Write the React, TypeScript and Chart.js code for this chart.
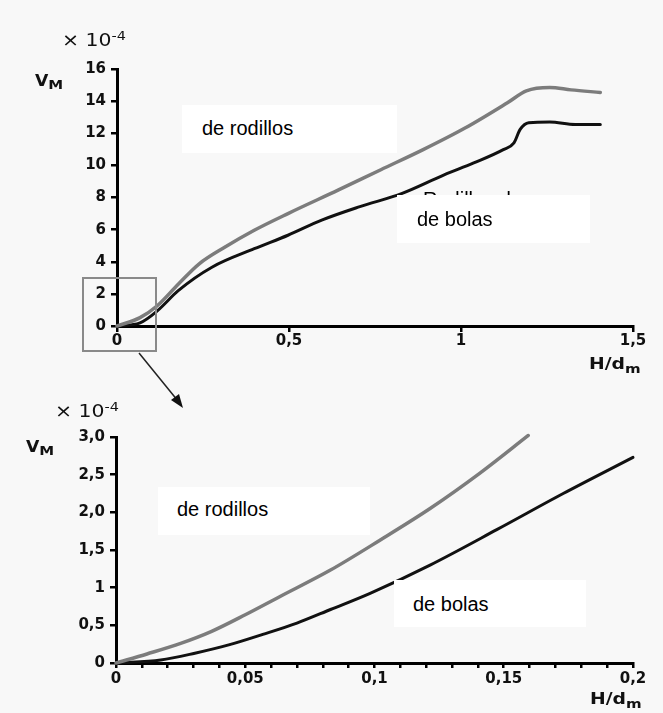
import React, { useEffect, useRef } from "react";
import { Chart, registerables } from "chart.js";
Chart.register(...registerables);

// ---- Top chart data (x10^-4) ----
const topRodillosX = [0, 0.067, 0.117, 0.178, 0.239, 0.313, 0.399, 0.497, 0.644, 0.767, 0.89, 1.013, 1.135, 1.19, 1.258, 1.32, 1.405];
const topRodillosY = [0, 0.52, 1.26, 2.6, 3.87, 4.9, 5.96, 7.0, 8.47, 9.73, 10.98, 12.34, 13.9, 14.64, 14.85, 14.7, 14.54];
const topBolasX = [0, 0.067, 0.117, 0.178, 0.276, 0.399, 0.497, 0.595, 0.706, 0.829, 0.951, 1.037, 1.123, 1.154, 1.172, 1.197, 1.258, 1.332, 1.405];
const topBolasY = [0, 0.2, 0.94, 2.2, 3.66, 4.81, 5.65, 6.59, 7.43, 8.26, 9.41, 10.15, 10.98, 11.4, 12.24, 12.66, 12.7, 12.55, 12.55];
const topXTicks = [0, 0.5, 1, 1.5];
const topXTickLabels = ["0", "0,5", "1", "1,5"];
const topYTicks = [0, 2, 4, 6, 8, 10, 12, 14, 16];
const topYTickLabels = ["0", "2", "4", "6", "8", "10", "12", "14", "16"];

// ---- Bottom chart data (x10^-4) ----
const botRodillosX = [0, 0.012, 0.025, 0.037, 0.05, 0.0633, 0.0828, 0.1021, 0.1215, 0.1408, 0.1595];
const botRodillosY = [0, 0.12, 0.26, 0.42, 0.64, 0.88, 1.23, 1.63, 2.05, 2.52, 3.02];
const botBolasX = [0, 0.0173, 0.0305, 0.0436, 0.0568, 0.07, 0.083, 0.0983, 0.1215, 0.1473, 0.173, 0.2];
const botBolasY = [0, 0.04, 0.13, 0.24, 0.38, 0.53, 0.71, 0.925, 1.3, 1.77, 2.25, 2.73];
const botXMajor = [0, 0.05, 0.1, 0.15, 0.2];
const botXMajorLabels = ["0", "0,05", "0,1", "0,15", "0,2"];
const botXMinorStep = 0.01;
const botYTicks = [0, 0.5, 1, 1.5, 2, 2.5, 3];
const botYTickLabels = ["0", "0,5", "1", "1,5", "2,0", "2,5", "3,0"];

const FONT = "'Liberation Sans', Arial, sans-serif";
const AXFONT = "'DejaVu Sans', sans-serif";
const GRAY = "#7c7c7c";
const BLACK = "#111111";

function pts(xs: number[], ys: number[]) {
  return xs.map((x, i) => ({ x, y: ys[i] }));
}

function baseScale(extra: any) {
  return {
    type: "linear",
    border: { display: true, color: "#000", width: 3 },
    grid: { drawOnChartArea: false, drawTicks: true, tickLength: 6, color: "#000", lineWidth: 2.5 },
    ...extra,
  };
}

function lineDs(data: any[], color: string, width: number) {
  return {
    data,
    borderColor: color,
    borderWidth: width,
    pointRadius: 0,
    cubicInterpolationMode: "monotone",
    borderCapStyle: "round",
    borderJoinStyle: "round",
    clip: false,
    fill: false,
  };
}

function useChart(ref: React.RefObject<HTMLCanvasElement>, make: () => any) {
  useEffect(() => {
    if (!ref.current) return;
    const chart = new Chart(ref.current, make());
    return () => chart.destroy();
  }, []);
}

const tickFont = { family: AXFONT, size: 15, weight: "bold" };

function pick(list: number[], labels: string[], eps: number) {
  return (v: number) => {
    const i = list.findIndex((t) => Math.abs(t - v) < eps);
    return i >= 0 ? labels[i] : "";
  };
}

export default function App() {
  const topRef = useRef<HTMLCanvasElement>(null);
  const botRef = useRef<HTMLCanvasElement>(null);

  useChart(topRef, () => ({
    type: "line",
    data: {
      datasets: [
        lineDs(pts(topRodillosX, topRodillosY), GRAY, 3.5),
        lineDs(pts(topBolasX, topBolasY), BLACK, 3),
      ],
    },
    options: {
      animation: false,
      responsive: false,
      layout: { padding: { left: 0, top: 69, right: 30, bottom: 16 } },
      plugins: { legend: { display: false }, tooltip: { enabled: false } },
      scales: {
        x: baseScale({
          min: 0,
          max: 1.5,
          afterBuildTicks: (s: any) => { s.ticks = topXTicks.map((v) => ({ value: v })); },
          afterFit: (s: any) => { s.height = 30; },
          ticks: { autoSkip: false, maxRotation: 0, padding: 0, color: "#111", font: tickFont, callback: pick(topXTicks, topXTickLabels, 1e-9) },
        }),
        y: baseScale({
          min: 0,
          max: 16,
          afterBuildTicks: (s: any) => { s.ticks = topYTicks.map((v) => ({ value: v })); },
          afterFit: (s: any) => { s.width = 117; },
          ticks: { autoSkip: false, padding: 5, color: "#111", font: tickFont, callback: pick(topYTicks, topYTickLabels, 1e-9) },
        }),
      },
    },
  }));

  useChart(botRef, () => ({
    type: "line",
    data: {
      datasets: [
        lineDs(pts(botRodillosX, botRodillosY), GRAY, 3.5),
        lineDs(pts(botBolasX, botBolasY), BLACK, 3),
      ],
    },
    options: {
      animation: false,
      responsive: false,
      layout: { padding: { left: 0, top: 65, right: 30, bottom: 20 } },
      plugins: { legend: { display: false }, tooltip: { enabled: false } },
      scales: {
        x: baseScale({
          min: 0,
          max: 0.2,
          grid: { drawOnChartArea: false, drawTicks: true, tickLength: 5, color: "#000", lineWidth: 2.5 },
          afterFit: (s: any) => { s.height = 30; },
          ticks: { stepSize: botXMinorStep, autoSkip: false, maxRotation: 0, padding: 2, color: "#111", font: tickFont, callback: pick(botXMajor, botXMajorLabels, 1e-6) },
        }),
        y: baseScale({
          min: 0,
          max: 3,
          afterBuildTicks: (s: any) => { s.ticks = botYTicks.map((v) => ({ value: v })); },
          afterFit: (s: any) => { s.width = 116; },
          ticks: { autoSkip: false, padding: 5, color: "#111", font: tickFont, callback: pick(botYTicks, botYTickLabels, 1e-9) },
        }),
      },
    },
  }));

  const abs = (l: number, t: number, extra: any = {}) => ({ position: "absolute" as const, left: l, top: t, ...extra });
  const txt = { fontFamily: FONT, color: "#000", whiteSpace: "nowrap" as const, lineHeight: 1 };
  const axTxt = { fontFamily: AXFONT, fontWeight: "bold" as const, color: "#111", whiteSpace: "nowrap" as const, lineHeight: 1, transformOrigin: "left top" };
  const box = (l: number, t: number, w: number, h: number) => abs(l, t, { width: w, height: h, background: "#fff" });
  const label = { ...txt, fontSize: 20, position: "absolute" as const };

  const exp = (l: number, t: number) => (
    <div style={{ ...abs(l, t), ...axTxt, fontWeight: "normal", fontSize: 17, transform: "scaleX(1.2)" }}>
      × 10<span style={{ fontSize: 12, position: "relative", top: -6 }}>-4</span>
    </div>
  );
  const vm = (l: number, t: number) => (
    <div style={{ ...abs(l, t), ...axTxt, fontSize: 15, transform: "scaleX(1.15)" }}>
      V<span style={{ fontSize: 13, position: "relative", top: 3 }}>M</span>
    </div>
  );
  const hdm = (l: number, t: number) => (
    <div style={{ ...abs(l, t), ...axTxt, fontSize: 15, transform: "scaleX(1.25)" }}>
      H/d<span style={{ fontSize: 12, position: "relative", top: 4 }}>m</span>
    </div>
  );

  return (
    <div style={{ position: "fixed", left: 0, top: 0, width: 663, height: 713, background: "#f8f8f8", overflow: "hidden" }}>
      <canvas ref={topRef} width={663} height={372} style={{ ...abs(0, 0), width: 663, height: 372 }} />
      <canvas ref={botRef} width={663} height={341} style={{ ...abs(0, 372), width: 663, height: 341 }} />

      {/* label remnant partly hidden behind the box */}
      <div style={{ ...label, left: 423, top: 189 }}>Rodillos de</div>

      <div style={box(182, 105, 215, 48)} />
      <div style={{ ...label, left: 202, top: 118 }}>de rodillos</div>
      <div style={box(397, 195, 193, 48)} />
      <div style={{ ...label, left: 417, top: 209 }}>de bolas</div>

      <div style={box(158, 487, 212, 48)} />
      <div style={{ ...label, left: 177, top: 499 }}>de rodillos</div>
      <div style={box(394, 580, 192, 47)} />
      <div style={{ ...label, left: 413, top: 594 }}>de bolas</div>

      {exp(62, 32)}
      {vm(35, 74)}
      {hdm(589, 357)}

      {exp(55, 403)}
      {vm(26, 440)}
      {hdm(590, 692)}

      <svg width={663} height={713} style={{ position: "absolute", left: 0, top: 0 }}>
        <rect x={83} y={278} width={73} height={73} fill="none" stroke="#8a8a8a" strokeWidth={2} />
        <line x1={139} y1={353} x2={178} y2={401} stroke="#222" strokeWidth={1.5} />
        <polygon points="183,408 171,400 179,394" fill="#111" />
      </svg>
    </div>
  );
}
